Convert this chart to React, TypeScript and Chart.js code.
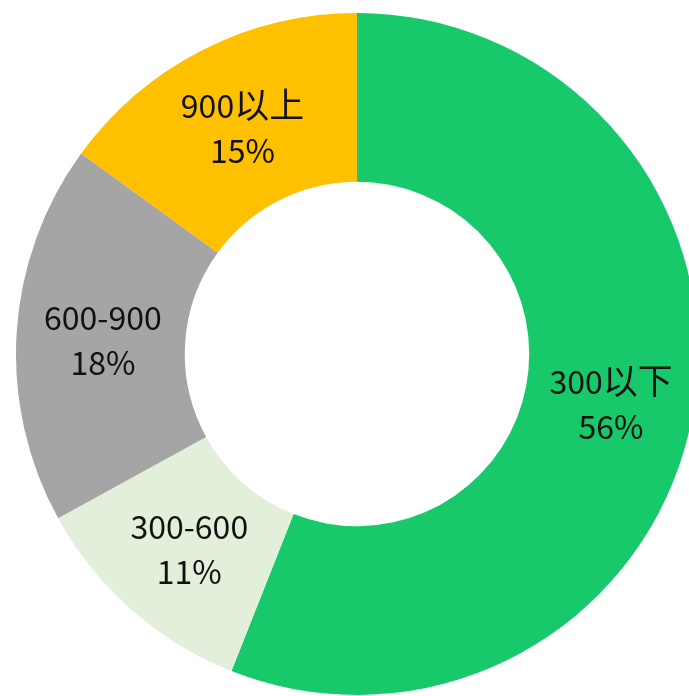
import React, { useEffect, useRef } from "react";
import { Chart, registerables } from "chart.js";

Chart.register(...registerables);

const categories = ["300以下", "300-600", "600-900", "900以上"];
const values = [56, 11, 18, 15];
const percentLabels = ["56%", "11%", "18%", "15%"];
const colors = ["#17C96B", "#E2EFDA", "#A5A5A5", "#FFC000"];

const LATIN_FONT = '32px "Noto Sans CJK SC", "Noto Sans", sans-serif';
const CJK_FONT = '35px "Noto Sans CJK SC", sans-serif';

function splitRuns(text: string) {
  const runs: { t: string; cjk: boolean }[] = [];
  for (const ch of text) {
    const cjk = ch.charCodeAt(0) > 0x2e80;
    const last = runs[runs.length - 1];
    if (last && last.cjk === cjk) last.t += ch;
    else runs.push({ t: ch, cjk });
  }
  return runs;
}

function drawMixed(ctx: CanvasRenderingContext2D, text: string, cx: number, cy: number) {
  const runs = splitRuns(text);
  let total = 0;
  const widths = runs.map((r) => {
    ctx.font = r.cjk ? CJK_FONT : LATIN_FONT;
    const w = ctx.measureText(r.t).width;
    total += w;
    return w;
  });
  let x = cx - total / 2;
  runs.forEach((r, i) => {
    ctx.font = r.cjk ? CJK_FONT : LATIN_FONT;
    ctx.fillText(r.t, x, r.cjk ? cy - 1 : cy);
    x += widths[i];
  });
}

const labelPlugin = {
  id: "sliceLabels",
  afterDatasetsDraw(chart: any) {
    const ctx = chart.ctx;
    const meta = chart.getDatasetMeta(0);
    ctx.save();
    ctx.fillStyle = "#111111";
    ctx.textAlign = "left";
    ctx.textBaseline = "middle";
    meta.data.forEach((arc: any, i: number) => {
      const p = arc.tooltipPosition();
      drawMixed(ctx, categories[i], p.x + 2, p.y - 20);
      drawMixed(ctx, percentLabels[i], p.x + 2, p.y + 25);
    });
    ctx.restore();
  },
};

export default function App() {
  const ref = useRef<HTMLCanvasElement | null>(null);
  useEffect(() => {
    if (!ref.current) return;
    const chart = new Chart(ref.current, {
      type: "doughnut",
      data: {
        labels: categories,
        datasets: [
          {
            data: values,
            backgroundColor: colors,
            borderWidth: 0,
          },
        ],
      },
      options: {
        responsive: false,
        animation: false,
        cutout: "50.5%",
        layout: { padding: 0 },
        plugins: {
          legend: { display: false },
          tooltip: { enabled: false },
        },
      },
      plugins: [labelPlugin],
    });
    return () => chart.destroy();
  }, []);
  return (
    <div style={{ position: "fixed", left: 16, top: 13, width: 682, height: 682 }}>
      <canvas ref={ref} width={682} height={682} style={{ width: 682, height: 682 }} />
    </div>
  );
}
